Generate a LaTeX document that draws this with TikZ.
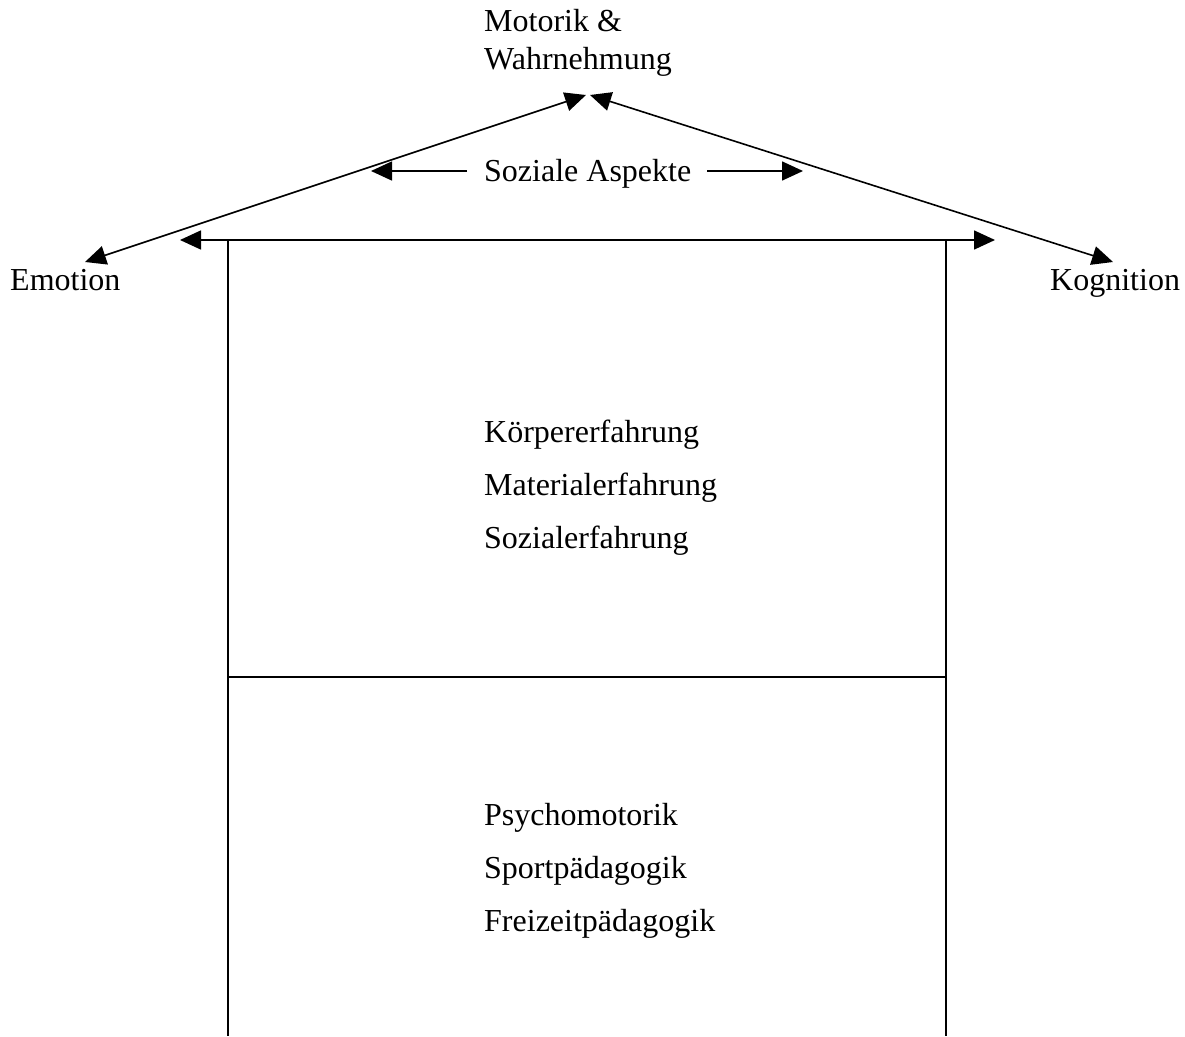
\documentclass[tikz,border=0pt]{standalone}
\usepackage{fontspec}
\setmainfont{Liberation Serif}
\usetikzlibrary{arrows.meta}
\begin{document}
\begin{tikzpicture}[x=1pt,y=-1pt,
  lbl/.style={anchor=base west,inner sep=0pt,font=\fontsize{32}{38}\selectfont},
  ln/.style={line width=1.6pt},
  arr/.style={ln,-{Triangle[length=21pt,width=19pt]}},
  darr/.style={ln,{Triangle[length=21pt,width=19pt]}-{Triangle[length=21pt,width=19pt]}}]
\useasboundingbox (0,0) rectangle (1185,1036);
% labels
\node[lbl] (mot1) at (484,31) {Motorik \&};
\node[lbl] (mot2) at (484,69) {Wahrnehmung};
\node[lbl] (soz) at (484,181) {Soziale Aspekte};
\node[lbl] (emo) at (10,290) {Emotion};
\node[lbl] (kog) at (1050,290) {Kognition};
\node[lbl] (k1) at (484,442) {Körpererfahrung};
\node[lbl] (k2) at (484,495) {Materialerfahrung};
\node[lbl] (k3) at (484,548) {Sozialerfahrung};
\node[lbl] (p1) at (484,825) {Psychomotorik};
\node[lbl] (p2) at (484,878) {Sportpädagogik};
\node[lbl] (p3) at (484,931) {Freizeitpädagogik};
% coordinates
\coordinate (topL) at (586,95);
\coordinate (topR) at (590,95);
\coordinate (emoT) at (85,262);
\coordinate (kogT) at (1113,262);
\coordinate (sozLs) at (467,171);
\coordinate (sozLt) at (371,171);
\coordinate (sozRs) at (707,171);
\coordinate (sozRt) at (803,171);
\coordinate (roofL) at (180,240);
\coordinate (roofR) at (995,240);
\coordinate (wallLt) at (228,240);
\coordinate (wallRt) at (946,240);
\coordinate (wallLb) at (228,1036);
\coordinate (wallRb) at (946,1036);
\coordinate (midL) at (228,677);
\coordinate (midR) at (946,677);
% connectors
\draw[darr] (emoT) -- (topL);
\draw[darr] (kogT) -- (topR);
\draw[arr] (sozLs) -- (sozLt);
\draw[arr] (sozRs) -- (sozRt);
\draw[darr] (roofL) -- (roofR);
\draw[ln] (wallLt) -- (wallLb);
\draw[ln] (wallRt) -- (wallRb);
\draw[ln] (midL) -- (midR);
\end{tikzpicture}
\end{document}
